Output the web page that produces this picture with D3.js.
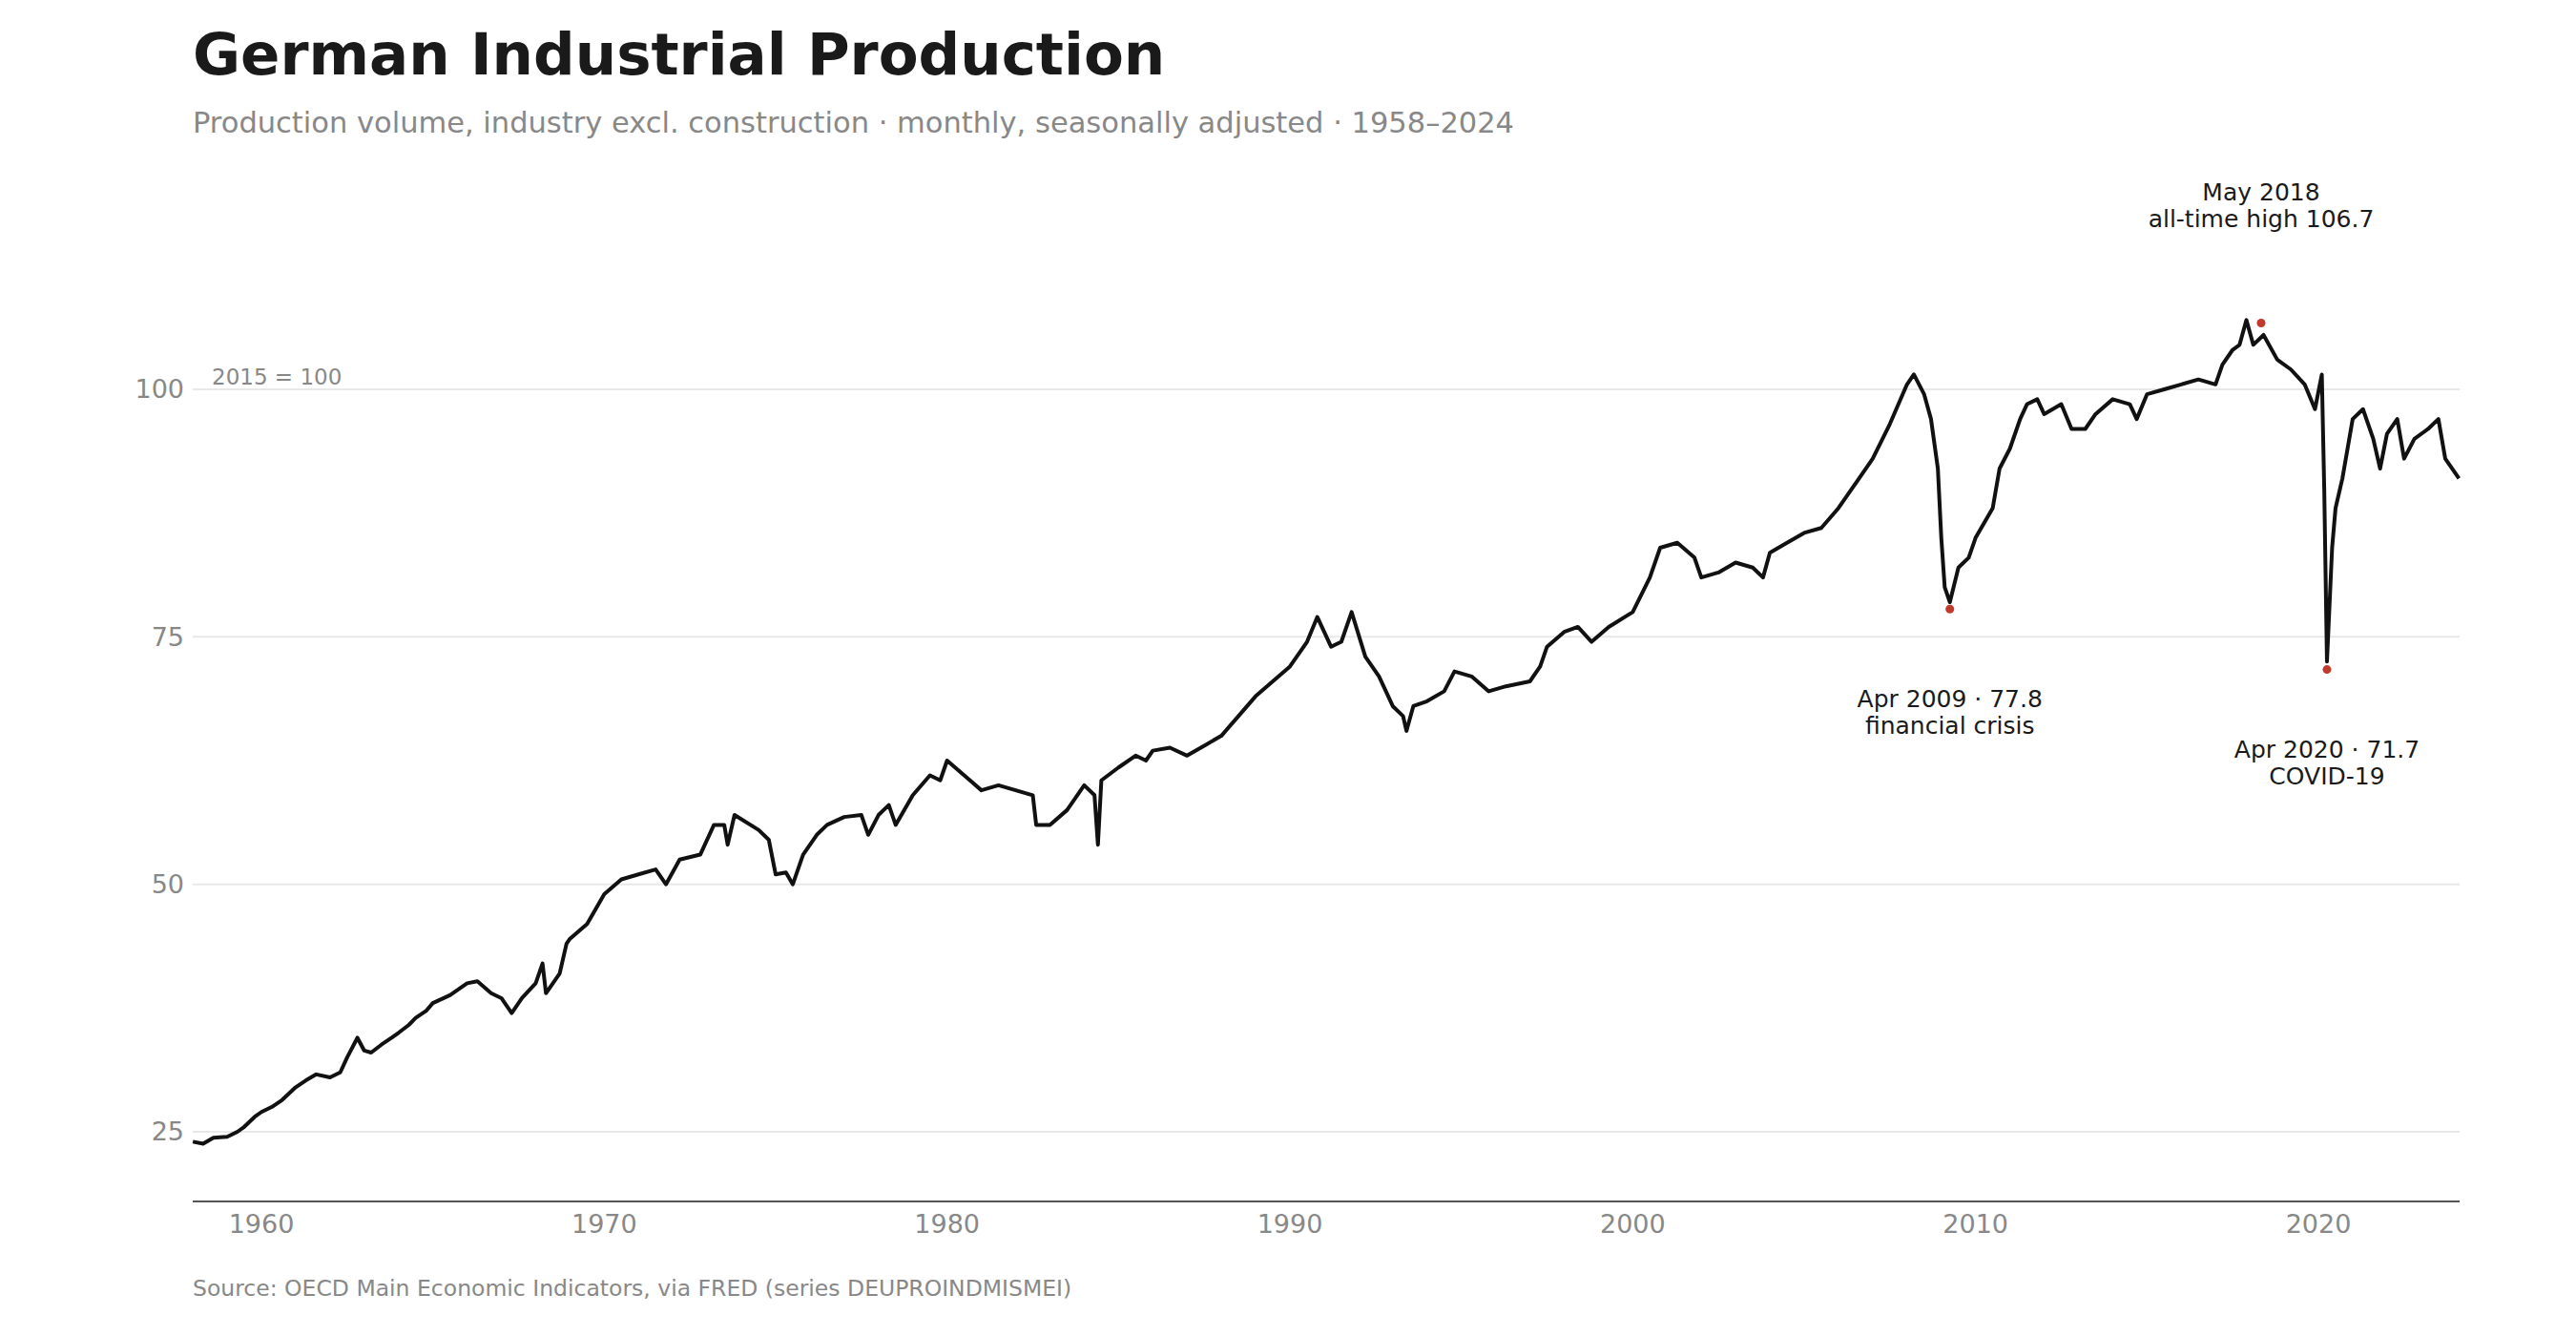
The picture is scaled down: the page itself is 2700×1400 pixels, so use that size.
<!DOCTYPE html>
<html>
<head>
<meta charset="utf-8">
<script src="https://cdn.jsdelivr.net/npm/d3@7"></script>
<style>
  body { margin: 0; background: #fff; }
  text { font-family: "DejaVu Sans", sans-serif; }
</style>
</head>
<body>
<svg id="chart" width="2700" height="1400"></svg>
<script>
// decimal year and index value (2015 = 100)
const years = [1958.0,1958.3,1958.6,1959.0,1959.3,1959.5,1959.8,1960.0,1960.3,1960.6,1961.0,1961.3,1961.6,1962.0,1962.3,1962.5,1962.8,1963.0,1963.2,1963.5,1963.8,1964.0,1964.3,1964.5,1964.8,1965.0,1965.5,1966.0,1966.3,1966.7,1967.0,1967.3,1967.6,1968.0,1968.2,1968.3,1968.7,1968.9,1969.0,1969.5,1970.0,1970.5,1971.0,1971.5,1971.8,1972.2,1972.8,1973.2,1973.5,1973.6,1973.8,1974.5,1974.8,1975.0,1975.3,1975.5,1975.8,1976.2,1976.5,1977.0,1977.5,1977.7,1978.0,1978.3,1978.5,1979.0,1979.5,1979.8,1980.0,1980.5,1981.0,1981.5,1982.0,1982.5,1982.6,1983.0,1983.5,1984.0,1984.3,1984.4,1984.5,1985.0,1985.5,1985.8,1986.0,1986.5,1987.0,1987.5,1988.0,1988.5,1989.0,1989.5,1990.0,1990.5,1990.8,1991.0,1991.2,1991.5,1991.8,1992.2,1992.6,1993.0,1993.3,1993.4,1993.6,1994.0,1994.5,1994.8,1995.3,1995.8,1996.3,1997.0,1997.3,1997.5,1998.0,1998.4,1998.8,1999.3,2000.0,2000.5,2000.8,2001.3,2001.8,2002.0,2002.5,2003.0,2003.5,2003.8,2004.0,2004.5,2005.0,2005.5,2006.0,2006.5,2007.0,2007.5,2008.0,2008.2,2008.5,2008.7,2008.9,2009.0,2009.1,2009.25,2009.5,2009.8,2010.0,2010.5,2010.7,2011.0,2011.3,2011.5,2011.8,2012.0,2012.5,2012.8,2013.2,2013.5,2014.0,2014.5,2014.7,2015.0,2015.5,2016.0,2016.5,2017.0,2017.2,2017.5,2017.7,2017.9,2018.1,2018.4,2018.8,2019.2,2019.6,2019.9,2020.1,2020.17,2020.25,2020.4,2020.5,2020.7,2021.0,2021.3,2021.6,2021.8,2022.0,2022.3,2022.5,2022.8,2023.2,2023.5,2023.7,2024.0,2024.1];
const values = [24.0,23.8,24.4,24.5,25.0,25.5,26.5,27.0,27.5,28.2,29.5,30.2,30.8,30.5,31.0,32.5,34.5,33.2,33.0,33.8,34.5,35.0,35.8,36.5,37.2,38.0,38.8,40.0,40.2,39.0,38.5,37.0,38.5,40.0,42.0,39.0,41.0,44.0,44.5,46.0,49.0,50.5,51.0,51.5,50.0,52.5,53.0,56.0,56.0,54.0,57.0,55.5,54.5,51.0,51.2,50.0,53.0,55.0,56.0,56.8,57.0,55.0,57.0,58.0,56.0,59.0,61.0,60.5,62.5,61.0,59.5,60.0,59.5,59.0,56.0,56.0,57.5,60.0,59.0,54.0,60.5,61.8,63.0,62.5,63.5,63.8,63.0,64.0,65.0,67.0,69.0,70.5,72.0,74.5,77.0,75.5,74.0,74.5,77.5,73.0,71.0,68.0,67.0,65.5,68.0,68.5,69.5,71.5,71.0,69.5,70.0,70.5,72.0,74.0,75.5,76.0,74.5,76.0,77.5,81.0,84.0,84.5,83.0,81.0,81.5,82.5,82.0,81.0,83.5,84.5,85.5,86.0,88.0,90.5,93.0,96.5,100.5,101.5,99.5,97.0,92.0,85.0,80.0,78.5,82.0,83.0,85.0,88.0,92.0,94.0,97.0,98.5,99.0,97.5,98.5,96.0,96.0,97.5,99.0,98.5,97.0,99.5,100.0,100.5,101.0,100.5,102.5,104.0,104.5,107.0,104.5,105.5,103.0,102.0,100.5,98.0,101.5,90.0,72.5,84.0,88.0,91.0,97.0,98.0,95.0,92.0,95.5,97.0,93.0,95.0,96.0,97.0,93.0,91.5,91.0];

const notes = [
  { year: 2009.25, value: 77.8, lines: ["Apr 2009 · 77.8", "financial crisis"], dy: 103 },
  { year: 2018.33, value: 106.7, lines: ["May 2018", "all-time high 106.7"], dy: -128 },
  { year: 2020.25, value: 71.7, lines: ["Apr 2020 · 71.7", "COVID-19"], dy: 92 }
];
const yTicks = [25, 50, 75, 100];
const xTicks = [1960, 1970, 1980, 1990, 2000, 2010, 2020];

const svg = d3.select("#chart");
const left = 202, right = 2578, bottom = 1259;

const x = d3.scaleLinear().domain([1960, 2020]).range([274, 2430]);
const y = d3.scaleLinear().domain([25, 100]).range([1186, 408]);

// titles
svg.append("text").attr("x", left).attr("y", 78)
  .attr("font-size", 61).attr("font-weight", "bold").attr("fill", "#1a1a1a")
  .text("German Industrial Production");
svg.append("text").attr("x", left).attr("y", 139)
  .attr("font-size", 30.5).attr("fill", "#888")
  .text("Production volume, industry excl. construction · monthly, seasonally adjusted · 1958–2024");

// grid + y labels
svg.selectAll(".grid").data(yTicks).join("line")
  .attr("x1", left).attr("x2", right)
  .attr("y1", d => y(d)).attr("y2", d => y(d))
  .attr("stroke", "#e8e8e8").attr("stroke-width", 2);
svg.selectAll(".ylab").data(yTicks).join("text")
  .attr("x", 193).attr("y", d => y(d)).attr("dy", "0.35em")
  .attr("text-anchor", "end").attr("font-size", 27).attr("fill", "#888")
  .text(d => d);
svg.append("text").attr("x", 222).attr("y", 403)
  .attr("font-size", 23).attr("fill", "#888").text("2015 = 100");

// x axis
svg.append("line").attr("x1", left).attr("x2", right)
  .attr("y1", bottom).attr("y2", bottom).attr("stroke", "#555").attr("stroke-width", 2);
svg.selectAll(".xlab").data(xTicks).join("text")
  .attr("x", d => x(d)).attr("y", 1292)
  .attr("text-anchor", "middle").attr("font-size", 27).attr("fill", "#888")
  .text(d => d);

// series
const line = d3.line().x((d, i) => x(years[i])).y(d => y(d));
svg.append("path").datum(values)
  .attr("d", line).attr("fill", "none")
  .attr("stroke", "#111").attr("stroke-width", 4).attr("stroke-linejoin", "round");

// annotations
notes.forEach(n => {
  svg.append("circle").attr("cx", x(n.year)).attr("cy", y(n.value))
    .attr("r", 4.5).attr("fill", "#c0392b");
  n.lines.forEach((t, i) => {
    svg.append("text").attr("x", x(n.year)).attr("y", y(n.value) + n.dy + i * 28)
      .attr("text-anchor", "middle").attr("font-size", 25).attr("fill", "#1a1a1a")
      .text(t);
  });
});

svg.append("text").attr("x", left).attr("y", 1358)
  .attr("font-size", 23.5).attr("fill", "#888")
  .text("Source: OECD Main Economic Indicators, via FRED (series DEUPROINDMISMEI)");
</script>
</body>
</html>
